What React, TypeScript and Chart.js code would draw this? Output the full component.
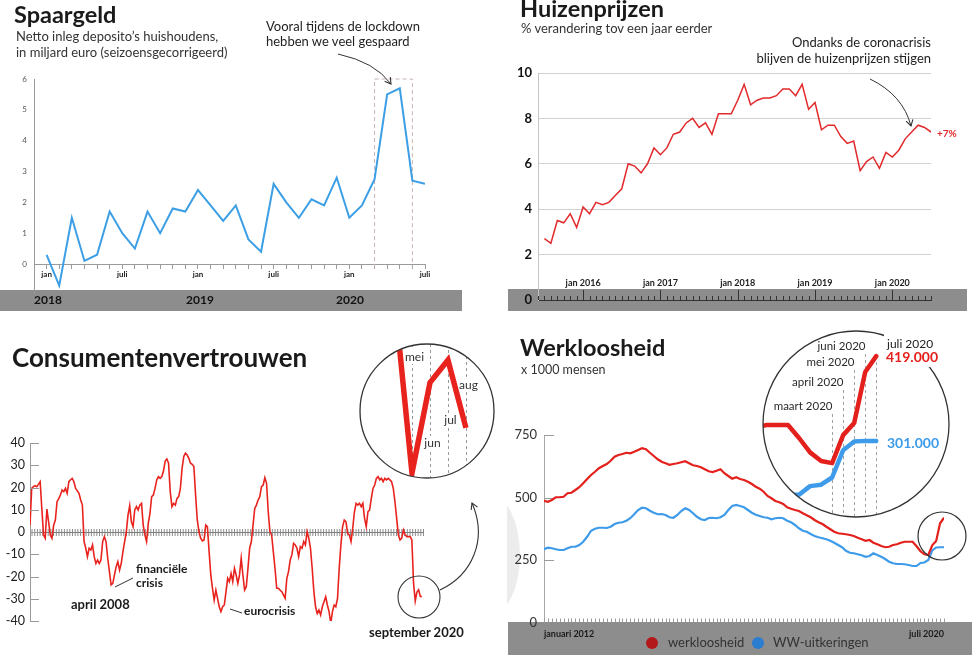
import React, { useEffect, useRef } from 'react';
import { Chart, registerables } from 'chart.js';

Chart.register(...registerables);

const FONT = 'Lato, "Open Sans", "DejaVu Sans", sans-serif';
Chart.defaults.font.family = FONT;

/* ---------------- Spaargeld (jan 2018 - jul 2020, mld euro) ---------------- */
const spaarTickLabels = ['jan', 'juli'];
const spaarJaren = ['2018', '2019', '2020'];
const spaargeld = [
  0.3, -0.7, 1.5, 0.1, 0.3, 1.7, 1.0, 0.5, 1.7, 1.0, 1.8, 1.7,
  2.4, 1.9, 1.4, 1.9, 0.8, 0.4, 2.6, 2.0, 1.5, 2.1, 1.9, 2.8,
  1.5, 1.9, 2.75, 5.5, 5.7, 2.7, 2.6,
];
const lockdownMaanden = [26, 29]; // maart t/m juni 2020
const spaarTicks = [0, 1, 2, 3, 4, 5, 6];

/* ---------------- Huizenprijzen (jul 2015 - jul 2020, %) ---------------- */
const huizenJanLabels = ['jan 2016', 'jan 2017', 'jan 2018', 'jan 2019', 'jan 2020'];
const huizenJanIndex = [6, 18, 30, 42, 54];
const huizenprijzen = [
  2.7, 2.5, 3.5, 3.4, 3.8, 3.2, 4.1, 3.8, 4.3, 4.2,
  4.3, 4.6, 4.9, 6.0, 5.9, 5.6, 6.0, 6.7, 6.4, 6.7,
  7.3, 7.4, 7.8, 8.0, 7.6, 7.8, 7.3, 8.2, 8.2, 8.2,
  8.8, 9.5, 8.6, 8.8, 8.9, 8.9, 9.0, 9.3, 9.3, 9.0,
  9.5, 8.4, 8.7, 7.5, 7.7, 7.7, 7.2, 6.9, 7.0, 5.7,
  6.1, 6.3, 5.8, 6.5, 6.3, 6.6, 7.1, 7.4, 7.7, 7.6, 7.4,
];
const huizenTicks = [0, 2, 4, 6, 8, 10];

/* ---------------- Consumentenvertrouwen ---------------- */
const vertrouwen = [
  3, 19.6, 20.4, 20.8, 20.4, 21.4, 22.6, 10.6, -1.3, -2.8,
  10.3, 4.6, -1.3, -2.8, 3.1, 5.4, 13.6, 15, 16.6, 18.9,
  18.1, 19.6, 17.4, 22.6, 23.5, 24.1, 22.6, 19.6, 18.5, 17.4,
  14.4, 12.1, -4.3, -7.3, -11.1, -7.3, -8.1, -5.8, -11.1, -14.1,
  -12.6, -14.1, -12.6, -4.3, -2.1, -4.3, -11.8, -17.8, -23.8, -23.1,
  -19.3, -15.6, -13.3, -17.1, -14.1, -8.8, -4.3, 0.1, 7.6, 11.8,
  4.6, 2.4, 9.9, 11.4, 9.9, 12.1, 12.9, 3.1, -1.3, -4.3,
  3.9, 8.4, 15.9, 16.6, 19.6, 23.4, 24.9,
  24.1, 24.9, 27.4, 31.9, 32.8, 30.9, 18.1, 11.4, 12.9, 12.1,
  15.1, 15.9, 19.6, 28.6, 33.9, 35.4, 34.6, 33.1, 30.9, 30.4,
  29.4, 16.6, 5.4, 0.1, -2.8, -4, -3.6, 3.1, 2.4, -8.8,
  -19.3, -25.3, -30.6, -26.1, -29.8, -33.6, -35.8, -33.6, -32.8, -26.8,
  -20.8, -22.3, -18.6, -22.3, -16.3, -19.3, -23.1, -19.3, -11.8, -19.3,
  -26.1, -24.6, -16.3, -7.3, -4.3, 3.1, 10.6, 12.1, 14.4, 15.9,
  20.4, 21.1, 24.4, 21.9, 9.1, 0.1, -1.3, -8.8, -16.3, -25.3,
  -25.3, -26.1, -26.8, -28.3, -29.8, -20.8,
  -17.8, -12.6, -10.3, -5.1, -5.8, -7.3, -11.1, -6.6, -7.3, -4.3,
  -5.8, 0.1, -2.8, -7.3, -16.3, -26.8, -33.6, -36.6, -35.1, -37.3,
  -33.6, -31.3, -29.1, -32.8, -35.8, -41, -35.8, -32.8, -33.6, -29.8,
  -16.3, -5.8, 2.4, 5.4, 4.6, -0.6, -1.3, -4.3, 1.6, 9.1,
  12.9, 12.1, 12.9, 11.4, 12.9, 6.1, 2.4, 9.1, 9.9, 15.1,
  19.6, 21.1, 24.1, 24.9, 23.4, 24.1, 22.6, 24.1, 23.4, 24.1,
  23.4, 22.6, 19.6, 13.6, 6.1, -1.3, -3.6, -2.8, 0.9, -1.3,
  -2.1, -2.1, -2.1, -3.6, -23, -31, -27, -26, -29, -29,
];
const vertrouwenTicks = [-40, -30, -20, -10, 0, 10, 20, 30, 40];
const inzoomMaanden = ['apr', 'mei', 'jun', 'jul', 'aug'];
const inzoomVertrouwen = [-23, -31, -27, -26, -29];

/* ---------------- Werkloosheid (jan 2012 - jul 2020, x 1000) ---------------- */
const werkloosheid = [
  487, 483, 490, 501, 501, 503, 517, 519, 530, 541,
  557, 574, 590, 603, 617, 626, 634, 647, 663, 670,
  674, 679, 677, 683, 690, 697, 693, 679, 666, 653,
  643, 637, 631, 634, 637, 641, 645, 637, 629, 626,
  621, 613, 605, 602, 607, 613, 597, 586, 575, 581,
  574, 570, 563, 554, 543, 535, 523, 506, 497, 486,
  481, 474, 461, 455, 450, 446, 437, 429, 421, 410,
  401, 394, 383, 373, 363, 357, 355, 353, 350, 346,
  339, 333, 327, 330, 319, 313, 306, 301, 303, 310,
  313, 319, 323, 323, 323, 305, 285, 273, 270, 309,
  326, 397, 419,
];
const wwUitkeringen = [
  293, 299, 297, 293, 290, 290, 297, 303, 303, 310,
  323, 343, 367, 375, 379, 379, 378, 383, 394, 399,
  401, 407, 417, 433, 450, 459, 457, 447, 439, 433,
  434, 430, 421, 419, 430, 446, 457, 450, 437, 423,
  413, 410, 418, 419, 417, 421, 430, 450, 466, 470,
  466, 461, 450, 439, 431, 426, 421, 419, 413, 417,
  419, 417, 407, 401, 390, 377, 367, 363, 354, 346,
  341, 337, 333, 327, 319, 310, 301, 287, 279, 277,
  273, 269, 263, 266, 277, 270, 263, 254, 243, 237,
  234, 234, 233, 230, 226, 226, 238, 240, 250, 288,
  300, 301, 301,
];
const werkTicks = [0, 250, 500, 750];
const werkAsLabels = ['januari 2012', 'juli 2020'];
const inzoomWerkMaanden = ['maart 2020', 'april 2020', 'mei 2020', 'juni 2020', 'juli 2020'];
const inzoomWerkStart = 91; // sep 2019
const inzoomWerkEerste = 98; // maart 2020

/* ---------------- helpers ---------------- */
const xy = (arr: number[], offset = 0) => arr.map((v, i) => ({ x: i + offset, y: v }));
const toTicks = (arr: number[]) => arr.map((v) => ({ value: v }));

const common = (padding: any) => ({
  responsive: false,
  animation: false,
  events: [],
  layout: { padding },
  plugins: { legend: { display: false }, tooltip: { enabled: false } },
  elements: { point: { radius: 0 } },
});

/* ---------- chart configs ---------- */
const spaarConfig = () => ({
  type: 'line',
  data: {
    datasets: [{ data: xy(spaargeld), borderColor: '#3c9fe5', borderWidth: 2, tension: 0, borderJoinStyle: 'miter' }],
  },
  options: {
    ...common({ top: 79, right: 55, bottom: 27, left: 0 }),
    scales: {
      x: {
        type: 'linear', min: -1, max: spaargeld.length - 1, position: { y: 0 },
        afterBuildTicks: (s: any) => { s.ticks = toTicks(Array.from({ length: spaargeld.length + 1 }, (_, k) => k - 1)); },
        ticks: {
          autoSkip: false, maxRotation: 0, minRotation: 0, padding: 2, color: '#222',
          font: { size: 8, weight: 'bold' },
          callback: (v: number) => (v >= 0 && v % 6 === 0 ? spaarTickLabels[(v / 6) % 2] : ''),
        },
        grid: { drawOnChartArea: false, drawTicks: true, tickLength: 4, color: '#9a9a9a' },
        border: { display: true, color: '#9a9a9a' },
      },
      y: {
        min: -0.94, max: 6,
        afterFit: (s: any) => { s.width = 34; },
        afterBuildTicks: (s: any) => { s.ticks = toTicks(spaarTicks); },
        ticks: { padding: 7, color: '#555', font: { size: 8 } },
        grid: { display: false, drawTicks: false },
        border: { display: true, color: '#9a9a9a' },
      },
    },
  },
  plugins: [{
    id: 'lockdownBox',
    beforeDatasetsDraw(chart: any) {
      const { ctx, scales: { x, y } } = chart;
      const x1 = x.getPixelForValue(lockdownMaanden[0]);
      const x2 = x.getPixelForValue(lockdownMaanden[1]);
      const y1 = y.getPixelForValue(6);
      const y2 = y.getPixelForValue(0) + 4;
      ctx.save();
      ctx.setLineDash([4, 3]);
      ctx.strokeStyle = '#c7b3b3';
      ctx.lineWidth = 1;
      ctx.beginPath();
      ctx.moveTo(x1, y2); ctx.lineTo(x1, y1); ctx.lineTo(x2, y1); ctx.lineTo(x2, y2);
      ctx.stroke();
      ctx.restore();
    },
  }],
});

const huizenConfig = () => ({
  type: 'line',
  data: {
    datasets: [{ data: xy(huizenprijzen), borderColor: '#e2292b', borderWidth: 1.5, tension: 0 }],
  },
  options: {
    ...common({ top: 73, right: 41, bottom: 9, left: 0 }),
    scales: {
      x: {
        type: 'linear', min: -1, max: huizenprijzen.length - 1, position: 'bottom',
        afterFit: (s: any) => { s.height = 11; },
        afterBuildTicks: (s: any) => { s.ticks = toTicks(huizenJanIndex); },
        ticks: {
          mirror: true, padding: 12, autoSkip: false, maxRotation: 0, color: '#222',
          font: { size: 9, weight: 'bold' },
          callback: (v: number) => huizenJanLabels[huizenJanIndex.indexOf(v)] ?? '',
        },
        grid: { display: false, drawTicks: false },
        border: { display: true, color: '#333' },
      },
      y: {
        min: 0, max: 10,
        afterFit: (s: any) => { s.width = 48; },
        afterBuildTicks: (s: any) => { s.ticks = toTicks(huizenTicks); },
        ticks: { padding: 6, color: '#111', font: { size: 13, weight: 'bold' } },
        grid: { color: '#d2d2d2', drawTicks: false },
        border: { display: true, color: '#c4c4c4' },
      },
    },
  },
  plugins: [{
    id: 'monthTicks',
    afterDraw(chart: any) {
      const { ctx, chartArea, scales: { x } } = chart;
      ctx.save();
      ctx.strokeStyle = '#333';
      ctx.lineWidth = 1;
      ctx.beginPath();
      for (let i = -1; i < huizenprijzen.length; i++) {
        const px = Math.round(x.getPixelForValue(i)) + 0.5;
        const h = huizenJanIndex.includes(i) ? 10 : 4;
        ctx.moveTo(px, chartArea.bottom);
        ctx.lineTo(px, chartArea.bottom - h);
      }
      ctx.stroke();
      ctx.restore();
    },
  }],
});

const vertrouwenConfig = () => ({
  type: 'line',
  data: {
    datasets: [{ data: xy(vertrouwen), borderColor: '#e8231e', borderWidth: 1.6, tension: 0 }],
  },
  options: {
    ...common({ top: 23, right: 68, bottom: 34, left: 0 }),
    scales: {
      x: { type: 'linear', min: 0, max: vertrouwen.length - 1, display: false },
      y: {
        min: -40, max: 40,
        afterFit: (s: any) => { s.width = 30; },
        afterBuildTicks: (s: any) => { s.ticks = toTicks(vertrouwenTicks); },
        ticks: { padding: 5, color: '#222', font: { size: 12.5 } },
        grid: { display: false, drawTicks: false },
        border: { display: true, color: '#9a9a9a' },
      },
    },
  },
  plugins: [{
    id: 'zeroHatch',
    beforeDatasetsDraw(chart: any) {
      const { ctx, chartArea, scales: { y } } = chart;
      const y0 = Math.round(y.getPixelForValue(0)) + 0.5;
      ctx.save();
      ctx.strokeStyle = '#777';
      ctx.lineWidth = 1;
      ctx.beginPath();
      ctx.moveTo(chartArea.left, y0); ctx.lineTo(chartArea.right + 2, y0);
      ctx.stroke();
      ctx.strokeStyle = '#8a8a8a';
      ctx.lineWidth = 1;
      ctx.beginPath();
      for (let px = chartArea.left + 2; px <= chartArea.right + 2; px += 2.7) {
        ctx.moveTo(px, y0 - 3.5); ctx.lineTo(px, y0 + 3.5);
      }
      ctx.stroke();
      ctx.restore();
    },
    afterDraw(chart: any) {
      const { ctx, chartArea, scales: { y } } = chart;
      ctx.save();
      ctx.strokeStyle = '#9a9a9a';
      ctx.lineWidth = 1;
      ctx.beginPath();
      vertrouwenTicks.forEach((v) => {
        const py = Math.round(y.getPixelForValue(v)) + 0.5;
        ctx.moveTo(chartArea.left, py); ctx.lineTo(chartArea.left + 9, py);
      });
      ctx.stroke();
      ctx.restore();
    },
  }],
});

const vertrouwenInzoomConfig = () => ({
  type: 'line',
  data: {
    datasets: [{
      data: xy(inzoomVertrouwen, -1), borderColor: '#e8231e', borderWidth: 5.5, tension: 0,
      borderJoinStyle: 'miter', borderCapStyle: 'butt',
    }],
  },
  options: {
    ...common(0),
    scales: {
      x: { type: 'linear', min: -2.89, max: 4.56, display: false },
      y: { min: -31.22, max: -25.29, display: false },
    },
  },
  plugins: [{
    id: 'inzoomLabels',
    beforeDatasetsDraw(chart: any) {
      const { ctx, scales: { x } } = chart;
      const labelY = [13, 99, 76, 41];
      ctx.save();
      ctx.font = `12px ${FONT}`;
      ctx.textAlign = 'center';
      ctx.textBaseline = 'middle';
      for (let k = 1; k < inzoomMaanden.length; k++) {
        const px = Math.round(x.getPixelForValue(k - 1)) + 0.5;
        ctx.strokeStyle = '#9a9a9a';
        ctx.lineWidth = 1;
        ctx.setLineDash([3, 3]);
        ctx.beginPath();
        ctx.moveTo(px, 0); ctx.lineTo(px, chart.height);
        ctx.stroke();
        const t = inzoomMaanden[k];
        const w = ctx.measureText(t).width;
        ctx.fillStyle = '#fff';
        ctx.fillRect(px + 2 - w / 2 - 1, labelY[k - 1] - 7, w + 2, 14);
        ctx.fillStyle = '#333';
        ctx.fillText(t, px + 2, labelY[k - 1]);
      }
      ctx.restore();
    },
  }],
});

const werkConfig = () => ({
  type: 'line',
  data: {
    datasets: [
      { data: xy(werkloosheid), borderColor: '#e3201b', borderWidth: 2.2, tension: 0 },
      { data: xy(wwUitkeringen), borderColor: '#3d9be9', borderWidth: 2.2, tension: 0 },
    ],
  },
  options: {
    ...common({ top: 115, right: 28, bottom: 12.5, left: 0 }),
    scales: {
      x: {
        type: 'linear', min: 0, max: werkloosheid.length - 1, position: 'bottom',
        afterFit: (s: any) => { s.height = 20; },
        afterBuildTicks: (s: any) => { s.ticks = toTicks([0, werkloosheid.length - 1]); },
        ticks: {
          align: 'inner', padding: 6, autoSkip: false, maxRotation: 0, color: '#1a1a1a',
          font: { size: 9, weight: 'bold' },
          callback: (v: number) => (v === 0 ? werkAsLabels[0] : werkAsLabels[1]),
        },
        grid: { display: false, drawTicks: false },
        border: { display: false },
      },
      y: {
        min: 0, max: 750,
        afterFit: (s: any) => { s.width = 54; },
        afterBuildTicks: (s: any) => { s.ticks = toTicks(werkTicks); },
        ticks: { padding: 7, color: '#333', font: { size: 13 } },
        grid: { display: false, drawTicks: false },
        border: { display: true, color: '#a8a8a8' },
      },
    },
  },
  plugins: [{
    id: 'werkHatch',
    beforeDatasetsDraw(chart: any) {
      const { ctx, chartArea, scales: { x, y } } = chart;
      ctx.save();
      ctx.strokeStyle = '#9a9a9a';
      ctx.lineWidth = 1;
      ctx.beginPath();
      for (let i = 0; i < werkloosheid.length; i++) {
        const px = Math.round(x.getPixelForValue(i)) + 0.5;
        ctx.moveTo(px, chartArea.bottom); ctx.lineTo(px, chartArea.bottom - 4);
      }
      werkTicks.slice(1).forEach((v) => {
        const py = Math.round(y.getPixelForValue(v)) + 0.5;
        ctx.moveTo(chartArea.left, py); ctx.lineTo(chartArea.left + 10, py);
      });
      ctx.stroke();
      ctx.restore();
    },
  }],
});

const werkInzoomConfig = () => ({
  type: 'line',
  data: {
    datasets: [
      { data: xy(werkloosheid.slice(inzoomWerkStart), inzoomWerkStart), borderColor: '#e3201b', borderWidth: 4.5, tension: 0, borderJoinStyle: 'round', borderCapStyle: 'round' },
      { data: xy(wwUitkeringen.slice(inzoomWerkStart), inzoomWerkStart), borderColor: '#3d9be9', borderWidth: 4.5, tension: 0, borderJoinStyle: 'round', borderCapStyle: 'round' },
    ],
  },
  options: {
    ...common(0),
    scales: {
      x: { type: 'linear', min: 91.73, max: 108.6, display: false },
      y: { min: 195, max: 454, display: false },
    },
  },
  plugins: [{
    id: 'werkInzoomLabels',
    beforeDatasetsDraw(chart: any) {
      const { ctx, scales: { x, y } } = chart;
      const labelY = [75, 51, 31, 15];
      ctx.save();
      ctx.font = `11.5px ${FONT}`;
      ctx.textAlign = 'right';
      ctx.textBaseline = 'middle';
      for (let k = 0; k < inzoomWerkMaanden.length; k++) {
        const i = inzoomWerkEerste + k;
        const px = Math.round(x.getPixelForValue(i)) + 0.5;
        const startY = k < 4 ? labelY[k] + 8 : y.getPixelForValue(werkloosheid[i]);
        ctx.strokeStyle = '#a0a0a0';
        ctx.lineWidth = 1;
        ctx.setLineDash([3, 3]);
        ctx.beginPath();
        ctx.moveTo(px, startY); ctx.lineTo(px, chart.height);
        ctx.stroke();
        if (k < 4) {
          ctx.fillStyle = '#2a2a2a';
          ctx.fillText(inzoomWerkMaanden[k], px, labelY[k]);
        }
      }
      ctx.restore();
    },
  }],
});

/* ---------------- components ---------------- */
function ChartCanvas({ left, top, width, height, config }: any) {
  const ref = useRef<HTMLCanvasElement | null>(null);
  useEffect(() => {
    const chart = new Chart(ref.current as HTMLCanvasElement, config() as any);
    return () => chart.destroy();
  }, []);
  return (
    <canvas
      ref={ref}
      width={width}
      height={height}
      style={{ position: 'absolute', left, top, width, height, display: 'block' }}
    />
  );
}

function Inset({ cx, cy, r, config }: any) {
  return (
    <div
      style={{
        position: 'absolute', left: cx - r, top: cy - r, width: 2 * r, height: 2 * r,
        borderRadius: '50%', overflow: 'hidden', background: '#fff',
      }}
    >
      <ChartCanvas left={0} top={0} width={2 * r} height={2 * r} config={config} />
    </div>
  );
}

function Txt({ x, y, size, weight = 400, color = '#222', align = 'left', children }: any) {
  const style: any = {
    position: 'absolute', top: y - 0.887 * size, fontSize: size, fontWeight: weight, color,
    lineHeight: 1, whiteSpace: 'nowrap', fontFamily: FONT,
  };
  if (align === 'right') style.right = 972 - x;
  else if (align === 'center') { style.left = x; style.transform = 'translateX(-50%)'; }
  else style.left = x;
  return <div style={style}>{children}</div>;
}

const Box = ({ left, top, width, height, bg, radius = 0 }: any) => (
  <div style={{ position: 'absolute', left, top, width, height, background: bg, borderRadius: radius }} />
);

export default function App() {
  return (
    <div
      style={{
        position: 'absolute', left: 0, top: 0, width: 972, height: 655, overflow: 'hidden',
        background: '#fff', fontFamily: FONT,
      }}
    >
      {/* faint grey shape left of the Werkloosheid panel */}
      <div style={{ position: 'absolute', left: 507, top: 495, width: 16, height: 120, overflow: 'hidden' }}>
        <div style={{ position: 'absolute', left: -47, top: 0, width: 60, height: 120, borderRadius: '50%', background: '#ececec' }} />
      </div>

      {/* grey bands */}
      <Box left={0} top={290} width={462} height={21} bg="#8d8d8d" />
      <Box left={508} top={289} width={459} height={22} bg="#8d8d8d" />
      <Box left={508} top={622} width={464} height={33} bg="#8d8d8d" />

      {/* charts */}
      <ChartCanvas left={0} top={0} width={480} height={320} config={spaarConfig} />
      <ChartCanvas left={490} top={0} width={482} height={320} config={huizenConfig} />
      <ChartCanvas left={0} top={420} width={490} height={235} config={vertrouwenConfig} />
      <ChartCanvas left={490} top={320} width={482} height={335} config={werkConfig} />

      {/* zoom circles */}
      <Inset cx={427} cy={411} r={67} config={vertrouwenInzoomConfig} />
      <Inset cx={856} cy={424} r={93} config={werkInzoomConfig} />

      <svg width={972} height={655} style={{ position: 'absolute', left: 0, top: 0, pointerEvents: 'none' }}>
        <defs>
          <marker id="ah" markerWidth="9" markerHeight="9" refX="7" refY="4.5" orient="auto" markerUnits="userSpaceOnUse">
            <path d="M1,1 L7,4.5 L1,8" fill="none" stroke="#333" strokeWidth="1.1" />
          </marker>
        </defs>
        <path d="M338,54 Q375,62 391,84" fill="none" stroke="#333" strokeWidth="1" markerEnd="url(#ah)" />
        <path d="M870,79 Q903,95 911,126" fill="none" stroke="#333" strokeWidth="1" markerEnd="url(#ah)" />
        <path d="M440,590 C472,575 488,540 472,503" fill="none" stroke="#333" strokeWidth="1.1" markerEnd="url(#ah)" />
        <line x1={115} y1={587} x2={133} y2={578} stroke="#333" strokeWidth="1" />
        <line x1={230} y1={609} x2={242} y2={613} stroke="#333" strokeWidth="1" />
        <circle cx={427} cy={411} r={67} fill="none" stroke="#333" strokeWidth="1.3" />
        <circle cx={419} cy={597} r={21} fill="none" stroke="#333" strokeWidth="1.1" />
        <circle cx={856} cy={424} r={93} fill="none" stroke="#333" strokeWidth="1.3" />
        <circle cx={942} cy={536} r={24} fill="none" stroke="#333" strokeWidth="1.2" />
      </svg>

      {/* Spaargeld texts */}
      <Txt x={14} y={23.5} size={23.5} weight={700} color="#1a1a1a">Spaargeld</Txt>
      <Txt x={16} y={42} size={13} color="#333">Netto inleg deposito’s huishoudens,</Txt>
      <Txt x={16} y={57.5} size={13} color="#333">in miljard euro (seizoensgecorrigeerd)</Txt>
      <Txt x={266} y={31.5} size={13} color="#222">Vooral tijdens de lockdown</Txt>
      <Txt x={266} y={47} size={13} color="#222">hebben we veel gespaard</Txt>
      <Txt x={34} y={305} size={12} weight={700} color="#111">{spaarJaren[0]}</Txt>
      <Txt x={186} y={305} size={12} weight={700} color="#111">{spaarJaren[1]}</Txt>
      <Txt x={336} y={305} size={12} weight={700} color="#111">{spaarJaren[2]}</Txt>

      {/* Huizenprijzen texts */}
      <Txt x={520} y={18} size={23.5} weight={700} color="#1a1a1a">Huizenprijzen</Txt>
      <Txt x={521} y={33.5} size={13} color="#333">% verandering tov een jaar eerder</Txt>
      <Txt x={931} y={48} size={13} align="right" color="#222">Ondanks de coronacrisis</Txt>
      <Txt x={931} y={64} size={13} align="right" color="#222">blijven de huizenprijzen stijgen</Txt>
      <Txt x={937} y={137} size={10} weight={700} color="#e2292b">+7%</Txt>

      {/* Consumentenvertrouwen texts */}
      <Txt x={12} y={367} size={26} weight={700} color="#1a1a1a">Consumentenvertrouwen</Txt>
      <Txt x={136} y={574} size={12} weight={700} color="#1a1a1a">financiële</Txt>
      <Txt x={136} y={588} size={12} weight={700} color="#1a1a1a">crisis</Txt>
      <Txt x={71} y={610} size={13} weight={700} color="#1a1a1a">april 2008</Txt>
      <Txt x={244} y={616} size={12} weight={700} color="#1a1a1a">eurocrisis</Txt>
      <Txt x={369} y={638} size={13} weight={700} color="#1a1a1a">september 2020</Txt>

      {/* Werkloosheid texts */}
      <Txt x={520} y={356.5} size={23.5} weight={700} color="#1a1a1a">Werkloosheid</Txt>
      <Txt x={521} y={375} size={12.5} color="#333">x 1000 mensen</Txt>
      <Box left={884} top={334} width={50} height={33} bg="#fff" />
      <Txt x={887} y={349} size={12} color="#222">{inzoomWerkMaanden[4]}</Txt>
      <Txt x={886} y={362} size={14} weight={700} color="#e3201b">{(werkloosheid[werkloosheid.length - 1] * 1000).toLocaleString('nl-NL')}</Txt>
      <Txt x={887} y={448} size={14} weight={700} color="#3d9be9">{(wwUitkeringen[wwUitkeringen.length - 1] * 1000).toLocaleString('nl-NL')}</Txt>
      <Box left={646} top={637} width={12} height={12} bg="#b3181b" radius="50%" />
      <Txt x={668} y={648} size={13} color="#333">werkloosheid</Txt>
      <Box left={752} top={637} width={12} height={12} bg="#2b7dd0" radius="50%" />
      <Txt x={773} y={648} size={13} color="#333">WW-uitkeringen</Txt>
    </div>
  );
}
